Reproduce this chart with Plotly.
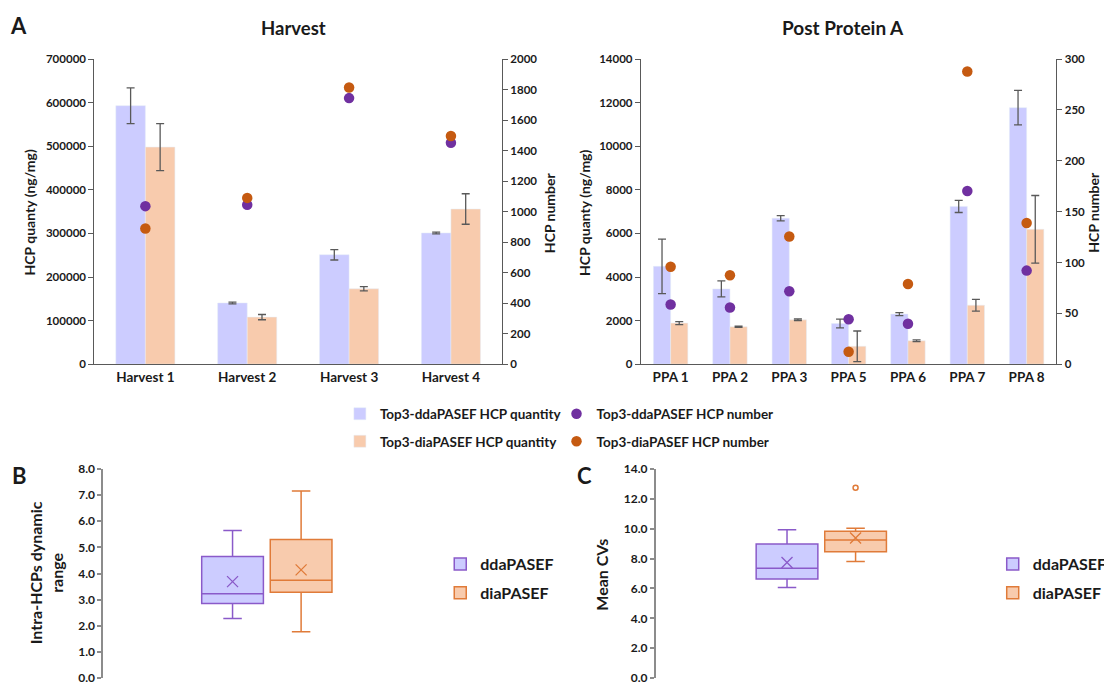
import plotly.graph_objects as go

# ---------------- data ----------------
harvest_cats = ["Harvest 1", "Harvest 2", "Harvest 3", "Harvest 4"]
harvest_dda_qty = [593000, 140500, 251000, 301000]
harvest_dda_qty_err = [41000, 2000, 12000, 2000]
harvest_dia_qty = [498000, 108000, 173000, 356000]
harvest_dia_qty_err = [54000, 6000, 5000, 35000]
harvest_dda_num = [1036, 1045, 1744, 1451]
harvest_dia_num = [889, 1090, 1814, 1496]

ppa_cats = ["PPA 1", "PPA 2", "PPA 3", "PPA 5", "PPA 6", "PPA 7", "PPA 8"]
ppa_dda_qty = [4490, 3455, 6700, 1870, 2300, 7240, 11770]
ppa_dda_qty_err = [1250, 370, 120, 200, 70, 280, 790]
ppa_dia_qty = [1885, 1720, 2035, 823, 1077, 2707, 6190]
ppa_dia_qty_err = [70, 30, 40, 700, 40, 270, 1550]
ppa_dda_num = [58.7, 55.8, 71.8, 44.2, 39.7, 170.2, 92.0]
ppa_dia_num = [95.8, 87.5, 125.6, 12.2, 78.8, 287.8, 138.8]

box_names = ["ddaPASEF", "diaPASEF"]
dr_q1 = [2.85, 3.28]
dr_median = [3.23, 3.74]
dr_q3 = [4.65, 5.30]
dr_low = [2.28, 1.77]
dr_high = [5.64, 7.15]
dr_mean = [3.69, 4.14]

cv_q1 = [6.63, 8.46]
cv_median = [7.35, 9.25]
cv_q3 = [8.98, 9.83]
cv_low = [6.06, 7.81]
cv_high = [9.92, 10.03]
cv_mean = [7.74, 9.38]
cv_outlier_dia = [12.73]

# ---------------- style ----------------
FONT = "Lato"
C_DDA_BAR = "#CCCCFF"
C_DIA_BAR = "#F8CBAD"
C_DDA_DOT = "#7030A0"
C_DIA_DOT = "#C55A11"
C_ERR = "#595959"
C_DDA_BOXLINE = "#8A5AC9"
C_DIA_BOXLINE = "#E07B39"
C_AX = "#595959"
TXT = "#1a1a1a"

# the page adds an 8px body margin; size the figure so it fits the window
OFF = 8
W, H = 1112 - OFF, 693 - OFF
def px(x):
    return (x - OFF) / W
def py(y):
    return 1 - (y - OFF) / H

fig = go.Figure()

err_style = dict(thickness=1.3, width=4, color=C_ERR)

# Harvest bars
fig.add_trace(go.Bar(x=harvest_cats, y=harvest_dda_qty, name="Top3-ddaPASEF HCP quantity",
                     marker_color=C_DDA_BAR, error_y=dict(type="data", array=harvest_dda_qty_err, **err_style),
                     xaxis="x", yaxis="y", legend="legend", legendgroup="a"))
fig.add_trace(go.Bar(x=harvest_cats, y=harvest_dia_qty, name="Top3-diaPASEF HCP quantity",
                     marker_color=C_DIA_BAR, error_y=dict(type="data", array=harvest_dia_qty_err, **err_style),
                     xaxis="x", yaxis="y", legend="legend", legendgroup="b"))
fig.add_trace(go.Scatter(x=harvest_cats, y=harvest_dda_num, mode="markers", name="Top3-ddaPASEF HCP number",
                         marker=dict(color=C_DDA_DOT, size=10.5), xaxis="x", yaxis="y2",
                         legend="legend2", legendgroup="c"))
fig.add_trace(go.Scatter(x=harvest_cats, y=harvest_dia_num, mode="markers", name="Top3-diaPASEF HCP number",
                         marker=dict(color=C_DIA_DOT, size=10.5), xaxis="x", yaxis="y2",
                         legend="legend2", legendgroup="d"))

# PPA bars
fig.add_trace(go.Bar(x=ppa_cats, y=ppa_dda_qty, name="Top3-ddaPASEF HCP quantity",
                     marker_color=C_DDA_BAR, error_y=dict(type="data", array=ppa_dda_qty_err, **err_style),
                     xaxis="x2", yaxis="y3", showlegend=False))
fig.add_trace(go.Bar(x=ppa_cats, y=ppa_dia_qty, name="Top3-diaPASEF HCP quantity",
                     marker_color=C_DIA_BAR, error_y=dict(type="data", array=ppa_dia_qty_err, **err_style),
                     xaxis="x2", yaxis="y3", showlegend=False))
fig.add_trace(go.Scatter(x=ppa_cats, y=ppa_dda_num, mode="markers", name="Top3-ddaPASEF HCP number",
                         marker=dict(color=C_DDA_DOT, size=10.5), xaxis="x2", yaxis="y4", showlegend=False))
fig.add_trace(go.Scatter(x=ppa_cats, y=ppa_dia_num, mode="markers", name="Top3-diaPASEF HCP number",
                         marker=dict(color=C_DIA_DOT, size=10.5), xaxis="x2", yaxis="y4", showlegend=False))

# Box plots
box_fill = [C_DDA_BAR, C_DIA_BAR]
box_line = [C_DDA_BOXLINE, C_DIA_BOXLINE]
for i, nm in enumerate(box_names):
    fig.add_trace(go.Box(x=[i], q1=[dr_q1[i]], median=[dr_median[i]], q3=[dr_q3[i]],
                         lowerfence=[dr_low[i]], upperfence=[dr_high[i]], name=nm,
                         width=0.9, whiskerwidth=0.3, fillcolor=box_fill[i],
                         line=dict(color=box_line[i], width=1.5),
                         xaxis="x3", yaxis="y5", legend="legend3", legendgroup=nm))
    fig.add_trace(go.Scatter(x=[i], y=[dr_mean[i]], mode="markers", showlegend=False,
                             marker=dict(symbol="x-thin-open", size=11, color=box_line[i],
                                         line=dict(color=box_line[i], width=1.3)),
                             xaxis="x3", yaxis="y5"))
for i, nm in enumerate(box_names):
    fig.add_trace(go.Box(x=[i], q1=[cv_q1[i]], median=[cv_median[i]], q3=[cv_q3[i]],
                         lowerfence=[cv_low[i]], upperfence=[cv_high[i]], name=nm,
                         width=0.9, whiskerwidth=0.3, fillcolor=box_fill[i],
                         line=dict(color=box_line[i], width=1.5),
                         xaxis="x4", yaxis="y6", legend="legend4", legendgroup=nm + "c"))
    fig.add_trace(go.Scatter(x=[i], y=[cv_mean[i]], mode="markers", showlegend=False,
                             marker=dict(symbol="x-thin-open", size=11, color=box_line[i],
                                         line=dict(color=box_line[i], width=1.3)),
                             xaxis="x4", yaxis="y6"))
fig.add_trace(go.Scatter(x=[1] * len(cv_outlier_dia), y=cv_outlier_dia, mode="markers", showlegend=False,
                         marker=dict(symbol="circle-open", size=5, color=C_DIA_BOXLINE,
                                     line=dict(color=C_DIA_BOXLINE, width=1.5)),
                         xaxis="x4", yaxis="y6"))

tickfont = dict(family=FONT, size=11.5, color=TXT, weight="bold")
ydom_a = [py(364), py(52)]
ydom_b = [py(685), py(471)]

common_y = dict(showgrid=False, zeroline=False, showline=True, linecolor=C_AX, linewidth=1.3,
                ticks="outside", ticklen=5, tickcolor=C_AX, tickwidth=1.3, tickfont=tickfont,
                tickformat="d")
common_xcat = dict(showgrid=False, zeroline=False, showline=True, linecolor=C_AX, linewidth=1.3,
                   ticks="", tickfont=dict(family=FONT, size=13.5, color=TXT, weight="bold"))
box_y = dict(showgrid=False, zeroline=False, showline=True, linecolor="#8C8C8C", linewidth=2,
             ticks="outside", ticklen=4, tickcolor="#8C8C8C", tickwidth=1.5,
             tickfont=dict(family=FONT, size=12, color=TXT, weight="bold"), tickformat=".1f")
box_x = dict(showgrid=False, zeroline=False, showline=False, showticklabels=False, ticks="")

legend_common = dict(bgcolor="rgba(0,0,0,0)", orientation="v", tracegroupgap=7, itemwidth=30,
                     xanchor="left", yanchor="top",
                     font=dict(family=FONT, size=13.5, color=TXT, weight="bold"))
legend_box = dict(bgcolor="rgba(0,0,0,0)", orientation="v", tracegroupgap=5, itemwidth=30,
                  xanchor="left", yanchor="top",
                  font=dict(family=FONT, size=16, color=TXT, weight="bold"))

fig.update_layout(
    width=W, height=H, margin=dict(l=0, r=0, t=0, b=0),
    paper_bgcolor="white", plot_bgcolor="white",
    font=dict(family=FONT, color=TXT, weight="bold"),
    barmode="group", bargap=0.42, bargroupgap=0,
    xaxis=dict(domain=[px(95), px(505)], anchor="y", **common_xcat),
    yaxis=dict(domain=ydom_a, anchor="x", range=[0, 700000], dtick=100000, **common_y),
    yaxis2=dict(overlaying="y", side="right", anchor="x", range=[0, 2000], dtick=200, **common_y),
    xaxis2=dict(domain=[px(645), px(1063)], anchor="y3", **common_xcat),
    yaxis3=dict(domain=ydom_a, anchor="x2", range=[0, 14000], dtick=2000, **common_y),
    yaxis4=dict(overlaying="y3", side="right", anchor="x2", range=[0, 300], dtick=50, **common_y),
    xaxis3=dict(domain=[px(104), px(440)], anchor="y5", range=[-1.884, 2.986], **box_x),
    yaxis5=dict(domain=ydom_b, anchor="x3", range=[0, 8], dtick=1, **box_y),
    xaxis4=dict(domain=[px(660), px(990)], anchor="y6", range=[-1.913, 2.87], **box_x),
    yaxis6=dict(domain=ydom_b, anchor="x4", range=[0, 14], dtick=2, **box_y),
    legend=dict(x=px(342), y=py(399), **legend_common),
    legend2=dict(x=px(560), y=py(399), **legend_common),
    legend3=dict(x=px(443), y=py(551), **legend_box),
    legend4=dict(x=px(999), y=py(551), **legend_box),
    showlegend=True,
)

ann = []
def add_text(x, y, text, size, angle=0):
    ann.append(dict(x=px(x), y=py(y), xref="paper", yref="paper", text=text, showarrow=False,
                    textangle=angle, xanchor="center", yanchor="middle",
                    font=dict(family=FONT, size=size, color=TXT, weight="bold")))

add_text(19, 18, "A", 22)
add_text(20, 478, "B", 22)
add_text(588, 478, "C", 22)
add_text(295, 20, "Harvest", 18.5)
add_text(848, 20, "Post Protein A", 19)
add_text(30, 209, "HCP quanty (ng/mg)", 14, -90)
add_text(553, 209, "HCP number", 14, -90)
add_text(588, 209, "HCP quanty (ng/mg)", 14, -90)
add_text(1101, 209, "HCP number", 14, -90)
add_text(46, 577, "Intra-HCPs dynamic<br>range", 16, -90)
add_text(605, 579, "Mean CVs", 16, -90)
fig.update_layout(annotations=ann)

fig.write_html("out.html")
